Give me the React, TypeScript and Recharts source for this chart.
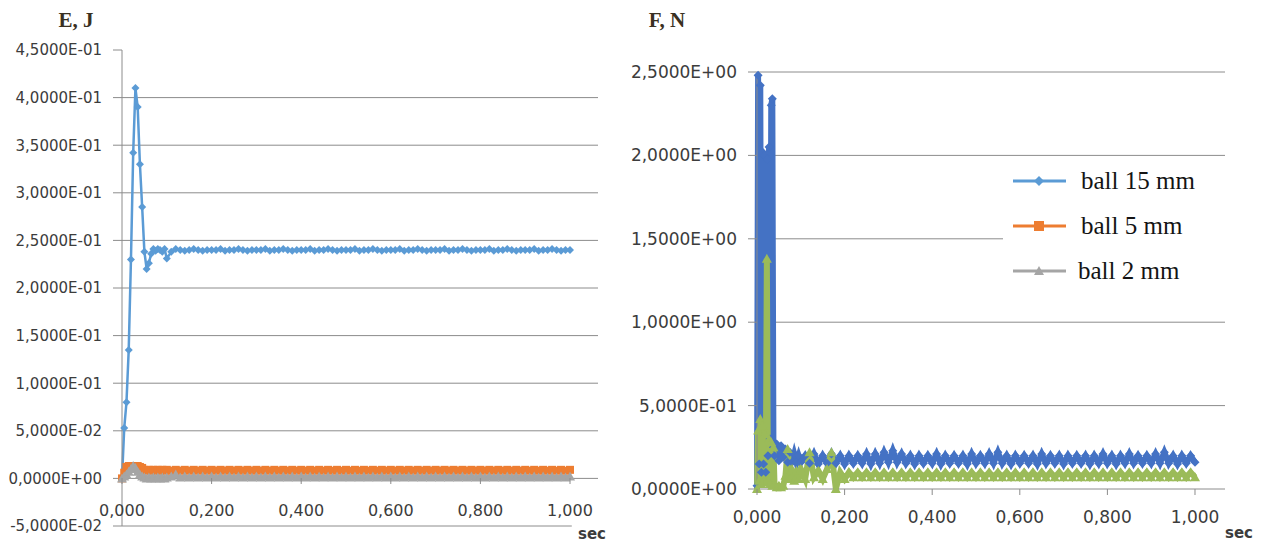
import { CartesianGrid, Legend, Line, LineChart, ReferenceLine, XAxis, YAxis } from "recharts";

// time stamps (sec)
const energyTimeStart = [0, 0.005, 0.01, 0.015, 0.02, 0.025, 0.03, 0.035, 0.04, 0.045, 0.05, 0.055, 0.06, 0.065, 0.07, 0.075, 0.08, 0.085, 0.09, 0.095, 0.1];
const forceTimeStart = [
  0, 0.0025, 0.005, 0.0075, 0.01, 0.0125, 0.015, 0.0175, 0.02, 0.0225, 0.025, 0.0275, 0.03, 0.0325, 0.035, 0.0375, 0.04,
  0.045, 0.05, 0.055, 0.06, 0.065, 0.07, 0.075, 0.08, 0.085, 0.09, 0.095, 0.1,
];
const timeTail = [
  0.11, 0.12, 0.13, 0.14, 0.15, 0.16, 0.17, 0.18, 0.19, 0.2,
  0.21, 0.22, 0.23, 0.24, 0.25, 0.26, 0.27, 0.28, 0.29, 0.3,
  0.31, 0.32, 0.33, 0.34, 0.35, 0.36, 0.37, 0.38, 0.39, 0.4,
  0.41, 0.42, 0.43, 0.44, 0.45, 0.46, 0.47, 0.48, 0.49, 0.5,
  0.51, 0.52, 0.53, 0.54, 0.55, 0.56, 0.57, 0.58, 0.59, 0.6,
  0.61, 0.62, 0.63, 0.64, 0.65, 0.66, 0.67, 0.68, 0.69, 0.7,
  0.71, 0.72, 0.73, 0.74, 0.75, 0.76, 0.77, 0.78, 0.79, 0.8,
  0.81, 0.82, 0.83, 0.84, 0.85, 0.86, 0.87, 0.88, 0.89, 0.9,
  0.91, 0.92, 0.93, 0.94, 0.95, 0.96, 0.97, 0.98, 0.99, 1.0,
];

// E, J
const energyBall15 = [
  0, 0.053, 0.08, 0.135, 0.23, 0.342, 0.41, 0.39, 0.33, 0.285, 0.238, 0.22, 0.226, 0.236, 0.241, 0.239, 0.241, 0.24, 0.238, 0.241, 0.231,
  0.238, 0.241, 0.24, 0.239, 0.24, 0.241, 0.24, 0.239, 0.24, 0.24,
  0.24, 0.241, 0.239, 0.24, 0.24, 0.241, 0.24, 0.239, 0.24, 0.24,
  0.24, 0.241, 0.239, 0.24, 0.24, 0.241, 0.24, 0.239, 0.24, 0.24,
  0.24, 0.241, 0.239, 0.24, 0.24, 0.241, 0.24, 0.239, 0.24, 0.24,
  0.24, 0.241, 0.239, 0.24, 0.24, 0.241, 0.24, 0.239, 0.24, 0.24,
  0.24, 0.241, 0.239, 0.24, 0.24, 0.241, 0.24, 0.239, 0.24, 0.24,
  0.24, 0.241, 0.239, 0.24, 0.24, 0.241, 0.24, 0.239, 0.24, 0.24,
  0.24, 0.241, 0.239, 0.24, 0.24, 0.241, 0.24, 0.239, 0.24, 0.24,
  0.24, 0.241, 0.239, 0.24, 0.24, 0.241, 0.24, 0.239, 0.24, 0.24,
];
const energyBall5 = [
  0, 0.006, 0.012, 0.013, 0.013, 0.013, 0.013, 0.013, 0.012, 0.011, 0.009, 0.008, 0.009, 0.008, 0.009, 0.008, 0.009, 0.008, 0.009, 0.008, 0.009,
  0.008, 0.009, 0.008, 0.009, 0.008, 0.009, 0.008, 0.009, 0.008, 0.009,
  0.008, 0.009, 0.008, 0.009, 0.008, 0.009, 0.008, 0.009, 0.008, 0.009,
  0.008, 0.009, 0.008, 0.009, 0.008, 0.009, 0.008, 0.009, 0.008, 0.009,
  0.008, 0.009, 0.008, 0.009, 0.008, 0.009, 0.008, 0.009, 0.008, 0.009,
  0.008, 0.009, 0.008, 0.009, 0.008, 0.009, 0.008, 0.009, 0.008, 0.009,
  0.008, 0.009, 0.008, 0.009, 0.008, 0.009, 0.008, 0.009, 0.008, 0.009,
  0.008, 0.009, 0.008, 0.009, 0.008, 0.009, 0.008, 0.009, 0.008, 0.009,
  0.008, 0.009, 0.008, 0.009, 0.008, 0.009, 0.008, 0.009, 0.008, 0.009,
  0.008, 0.009, 0.008, 0.009, 0.008, 0.009, 0.008, 0.009, 0.008, 0.009,
];
const energyBall2 = [
  0, 0.002, 0.004, 0.007, 0.01, 0.013, 0.011, 0.007, 0.004, 0.002, 0.001, 0.0, 0.001, 0.0, 0.001, 0.0, 0.001, 0.0, 0.001, 0.0, 0.001,
  0.002, 0.004, 0.001, 0.002, 0.001, 0.002, 0.001, 0.002, 0.001, 0.002,
  0.001, 0.002, 0.001, 0.002, 0.001, 0.002, 0.001, 0.002, 0.001, 0.002,
  0.001, 0.002, 0.001, 0.002, 0.001, 0.002, 0.001, 0.002, 0.001, 0.002,
  0.001, 0.002, 0.001, 0.002, 0.001, 0.002, 0.001, 0.002, 0.001, 0.002,
  0.001, 0.002, 0.001, 0.002, 0.001, 0.002, 0.001, 0.002, 0.001, 0.002,
  0.001, 0.002, 0.001, 0.002, 0.001, 0.002, 0.001, 0.002, 0.001, 0.002,
  0.001, 0.002, 0.001, 0.002, 0.001, 0.002, 0.001, 0.002, 0.001, 0.002,
  0.001, 0.002, 0.001, 0.002, 0.001, 0.002, 0.001, 0.002, 0.001, 0.002,
  0.001, 0.002, 0.001, 0.002, 0.001, 0.002, 0.001, 0.002, 0.001, 0.002,
];

// F, N
const forceBall15 = [
  0.02, 2.48, 0.15, 2.42, 0.1, 2.02, 0.15, 2.0, 0.1, 1.98, 0.2, 2.05, 0.3, 2.3, 2.34, 0.25, 0.2,
  0.27, 0.17, 0.26, 0.19, 0.24, 0.16, 0.22, 0.16, 0.21, 0.16, 0.2, 0.16,
  0.2, 0.155, 0.21, 0.15, 0.2, 0.155, 0.21, 0.155, 0.2, 0.15,
  0.2, 0.155, 0.2, 0.155, 0.21, 0.15, 0.21, 0.155, 0.22, 0.16,
  0.23, 0.16, 0.21, 0.155, 0.2, 0.15, 0.2, 0.155, 0.2, 0.155,
  0.21, 0.15, 0.2, 0.155, 0.2, 0.155, 0.2, 0.15, 0.21, 0.155,
  0.2, 0.155, 0.21, 0.155, 0.22, 0.155, 0.2, 0.15, 0.2, 0.155,
  0.2, 0.155, 0.2, 0.15, 0.21, 0.155, 0.2, 0.155, 0.2, 0.15,
  0.2, 0.155, 0.2, 0.155, 0.2, 0.15, 0.2, 0.155, 0.21, 0.155,
  0.2, 0.15, 0.2, 0.155, 0.21, 0.155, 0.2, 0.155, 0.2, 0.155,
  0.21, 0.155, 0.22, 0.155, 0.2, 0.15, 0.2, 0.155, 0.2, 0.16,
];
const forceBall2 = [
  0, 0.35, 0.05, 0.42, 0.03, 0.38, 0.05, 0.33, 0.04, 1.38, 0.05, 0.3, 0.03, 0.28, 0.02, 0.25, 0.03,
  0.01, 0.02, 0.01, 0.02, 0.08, 0.24, 0.06, 0.12, 0.05, 0.11, 0.06, 0.12,
  0.06, 0.22, 0.07, 0.11, 0.06, 0.12, 0.22, 0.0, 0.1, 0.06,
  0.1, 0.07, 0.1, 0.07, 0.1, 0.07, 0.1, 0.07, 0.1, 0.07,
  0.1, 0.07, 0.1, 0.07, 0.1, 0.07, 0.1, 0.07, 0.1, 0.07,
  0.1, 0.07, 0.1, 0.07, 0.1, 0.07, 0.1, 0.07, 0.1, 0.07,
  0.1, 0.07, 0.1, 0.07, 0.1, 0.07, 0.1, 0.07, 0.1, 0.07,
  0.1, 0.07, 0.1, 0.07, 0.1, 0.07, 0.1, 0.07, 0.1, 0.07,
  0.1, 0.07, 0.1, 0.07, 0.1, 0.07, 0.1, 0.07, 0.1, 0.07,
  0.1, 0.07, 0.1, 0.07, 0.1, 0.07, 0.1, 0.07, 0.1, 0.07,
  0.1, 0.07, 0.1, 0.07, 0.1, 0.07, 0.1, 0.07, 0.1, 0.07,
];

const energyTicks = [0.45, 0.4, 0.35, 0.3, 0.25, 0.2, 0.15, 0.1, 0.05, 0, -0.05];
const energyGrid = [0.4, 0.35, 0.3, 0.25, 0.2, 0.15, 0.1, 0.05, 0];
const forceTicks = [2.5, 2, 1.5, 1, 0.5, 0];
const forceGrid = [2.5, 2, 1.5, 1, 0.5];
const timeTicks = [0, 0.2, 0.4, 0.6, 0.8, 1];
const legendNames = ["ball 15 mm", "ball 5 mm", "ball 2 mm"];

const energyTime = [...energyTimeStart, ...timeTail];
const forceTime = [...forceTimeStart, ...timeTail];
const energyData = energyTime.map((t, i) => ({ t, b15: energyBall15[i], b5: energyBall5[i], b2: energyBall2[i] }));
const forceData = forceTime.map((t, i) => ({ t, b15: forceBall15[i], b2: forceBall2[i] }));

const GRID = "#8c8c8c";
const TXT = "#3c3c3c";
const SANS = "DejaVu Sans, sans-serif";
const SERIF = "Liberation Serif, serif";

const sci = (v: number) => {
  const [m, e] = v.toExponential(4).split("e");
  const sign = e.startsWith("-") ? "-" : "+";
  return `${m.replace(".", ",")}E${sign}${e.replace(/^[+-]/, "").padStart(2, "0")}`;
};
const secFmt = (v: number) => v.toFixed(3).replace(".", ",");

const diamond = (color: string, r: number) => (p: any) => {
  const { cx, cy, index } = p;
  if (cx == null || cy == null) return <g key={`n${index}`} />;
  return <path key={`d${index}`} d={`M${cx} ${cy - r}L${cx + r} ${cy}L${cx} ${cy + r}L${cx - r} ${cy}Z`} fill={color} />;
};
const square = (color: string, r: number) => (p: any) => {
  const { cx, cy, index } = p;
  if (cx == null || cy == null) return <g key={`n${index}`} />;
  return <rect key={`s${index}`} x={cx - r} y={cy - r} width={2 * r} height={2 * r} fill={color} />;
};
const triangle = (color: string, r: number) => (p: any) => {
  const { cx, cy, index } = p;
  if (cx == null || cy == null) return <g key={`n${index}`} />;
  return <path key={`t${index}`} d={`M${cx} ${cy - r}L${cx + r} ${cy + r * 0.8}L${cx - r} ${cy + r * 0.8}Z`} fill={color} />;
};

// x labels: Excel draws the category axis crossing at zero
const timeTick = (zeroLift: number, textDrop: number, fontSize: number) => (p: any) => {
  const { x, y, payload } = p;
  const zy = y - zeroLift;
  return (
    <g>
      <line x1={x} x2={x} y1={zy} y2={zy + 6} stroke={GRID} />
      <text x={x} y={zy + textDrop} textAnchor="middle" dominantBaseline="central" fill={TXT} fontSize={fontSize} fontFamily={SANS}>
        {secFmt(payload.value)}
      </text>
    </g>
  );
};

// unit title above the value axis
const axisTitle = (title: string, centerX: number, lift: number) => (p: any) => {
  const vb = p.viewBox || { x: 0, y: 0 };
  return (
    <text x={vb.x + centerX} y={vb.y - lift} textAnchor="middle" fill="#3a3022" fontSize={21} fontWeight="bold" fontFamily={SERIF}>
      {title}
    </text>
  );
};

const legendColors = ["#5B9BD5", "#ED7D31", "#A5A5A5"];

function LegendBox() {
  return (
    <div style={{ background: "#fff", width: 222, height: 135 }}>
      {legendNames.map((name, i) => (
        <div key={name} style={{ display: "flex", alignItems: "center", height: 45 }}>
          <svg width={72} height={20} style={{ flex: "none" }}>
            <line x1={10} x2={63} y1={10} y2={10} stroke={legendColors[i]} strokeWidth={3} />
            {i === 0 && <path d="M36 5L41 10L36 15L31 10Z" fill={legendColors[i]} />}
            {i === 1 && <rect x={31} y={5} width={10} height={10} fill={legendColors[i]} />}
            {i === 2 && <path d="M36 5L41 14L31 14Z" fill={legendColors[i]} />}
          </svg>
          <span style={{ fontFamily: SERIF, fontSize: 25, color: "#141414", marginLeft: i === 2 ? 3 : 6 }}>{name}</span>
        </div>
      ))}
    </div>
  );
}

function EnergyChart() {
  return (
    <LineChart width={620} height={542} data={energyData} margin={{ top: 50, right: 22, bottom: 0, left: 0 }}>
      <CartesianGrid vertical={false} stroke={GRID} horizontalValues={energyGrid} />
      <XAxis
        dataKey="t"
        type="number"
        domain={[0, 1.0625]}
        ticks={timeTicks}
        height={16}
        axisLine={false}
        tickLine={false}
        tickSize={0}
        tickMargin={0}
        tick={timeTick(48, 32, 16)}
        label={{ value: "sec", position: "right", dx: -25, dy: 0, fill: TXT, fontSize: 15, fontWeight: "bold", fontFamily: SANS }}
      />
      <YAxis
        type="number"
        domain={[-0.05, 0.45]}
        ticks={energyTicks}
        width={122}
        interval={0}
        axisLine={{ stroke: GRID }}
        tickLine={{ stroke: GRID }}
        tickSize={9}
        tickMargin={11}
        tickFormatter={sci}
        tick={{ fill: TXT, fontSize: 15, fontFamily: SANS }}
        label={{ content: axisTitle("E, J", 76, 23) }}
      />
      <ReferenceLine segment={[{ x: 0, y: -0.05 }, { x: 1.004, y: -0.05 }]} stroke={GRID} />
      <Line dataKey="b15" name="ball 15 mm" stroke="#5B9BD5" strokeWidth={2.5} dot={diamond("#5B9BD5", 4)} isAnimationActive={false} />
      <Line dataKey="b5" name="ball 5 mm" stroke="#ED7D31" strokeWidth={3} dot={square("#ED7D31", 4)} isAnimationActive={false} />
      <Line dataKey="b2" name="ball 2 mm" stroke="#A5A5A5" strokeWidth={4} dot={triangle("#A5A5A5", 5)} isAnimationActive={false} />
    </LineChart>
  );
}

function ForceChart() {
  return (
    <LineChart width={647} height={542} data={forceData} margin={{ top: 72, right: 42, bottom: 0, left: 0 }}>
      <CartesianGrid vertical={false} stroke={GRID} horizontalValues={forceGrid} />
      <XAxis
        dataKey="t"
        type="number"
        domain={[0, 1.0685]}
        ticks={timeTicks}
        height={53}
        axisLine={{ stroke: GRID }}
        tickLine={false}
        tickSize={0}
        tickMargin={0}
        tick={timeTick(0, 28, 17)}
        label={{ value: "sec", position: "right", dx: -5, dy: 17, fill: TXT, fontSize: 15, fontWeight: "bold", fontFamily: SANS }}
      />
      <YAxis
        type="number"
        domain={[0, 2.5]}
        ticks={forceTicks}
        width={137}
        interval={0}
        axisLine={{ stroke: GRID }}
        tickLine={{ stroke: GRID }}
        tickSize={9}
        tickMargin={11}
        tickFormatter={sci}
        tick={{ fill: TXT, fontSize: 17, fontFamily: SANS }}
        label={{ content: axisTitle("F, N", 47, 45) }}
      />
      <Line dataKey="b15" name="ball 15 mm" stroke="#4472C4" strokeWidth={6} dot={diamond("#4472C4", 4.5)} isAnimationActive={false} />
      <Line dataKey="b2" name="ball 2 mm" stroke="#9BBB59" strokeWidth={6} dot={triangle("#9BBB59", 5)} isAnimationActive={false} />
      <Legend
        layout="vertical"
        align="center"
        verticalAlign="middle"
        content={() => <LegendBox />}
        wrapperStyle={{ left: 383, top: 158, width: 222, height: 135 }}
      />
    </LineChart>
  );
}

export default function App() {
  return (
    <div style={{ position: "absolute", left: 0, top: 0, width: 1267, height: 542, background: "#fff" }}>
      <div style={{ position: "absolute", left: 0, top: 0 }}>
        <EnergyChart />
      </div>
      <div style={{ position: "absolute", left: 620, top: 0 }}>
        <ForceChart />
      </div>
    </div>
  );
}
